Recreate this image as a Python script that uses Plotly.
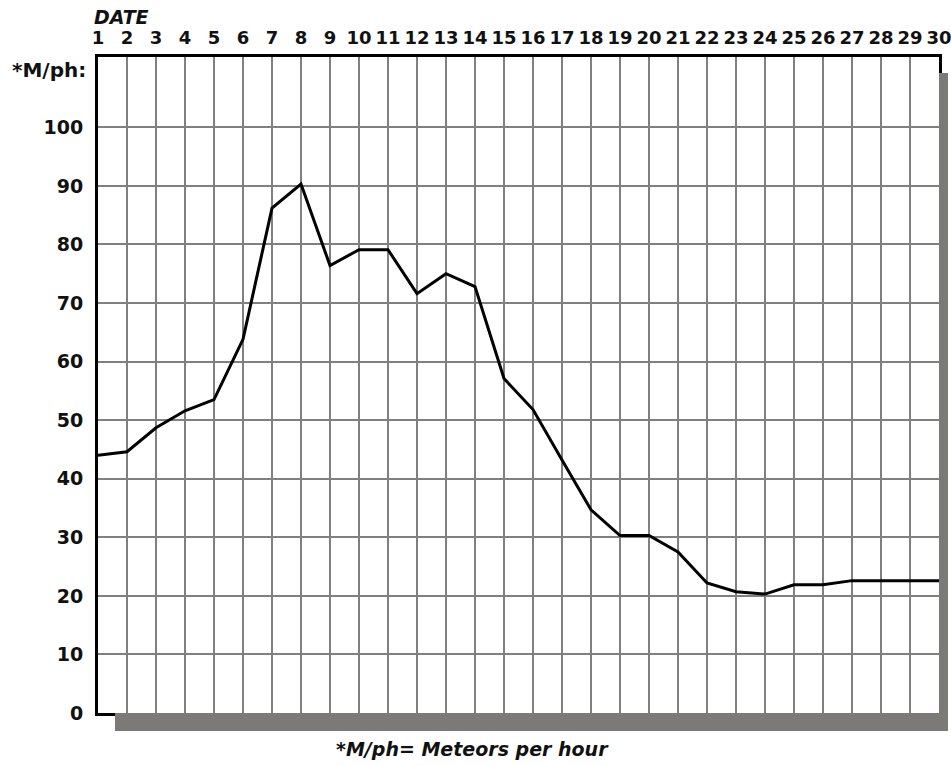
import plotly.graph_objects as go

dates = list(range(1, 31))
meteors_per_hour = [44, 44.6, 48.7, 51.6, 53.5, 63.8, 86.2, 90.3, 76.4, 79.1,
                    79.1, 71.6, 75, 72.8, 57.1, 51.8, 43.2, 34.7, 30.3, 30.3,
                    27.5, 22.2, 20.7, 20.3, 21.9, 21.9, 22.6, 22.6, 22.6, 22.6]
y_ticks = list(range(0, 101, 10))
x_title = "DATE"
y_title = "*M/ph:"
footnote = "*M/ph= Meteors per hour"

FONT = "DejaVu Sans, Liberation Sans, Arial"
W, H = 951, 766
# plot area in page pixels
L, R, T, B = 98, 939, 57, 713
pw, ph = R - L, B - T

def px(x):
    return (x - L) / pw

def py(y):
    return (B - y) / ph

fig = go.Figure()
fig.add_trace(go.Scatter(
    x=dates, y=meteors_per_hour, mode="lines",
    line=dict(color="black", width=3), hoverinfo="x+y", showlegend=False,
))

shadow = "#7b7a76"
fig.add_shape(type="rect", xref="paper", yref="paper",
              x0=px(115), x1=px(948), y0=py(731), y1=py(B),
              fillcolor=shadow, line=dict(width=0))
fig.add_shape(type="rect", xref="paper", yref="paper",
              x0=px(R), x1=px(948), y0=py(731), y1=py(73),
              fillcolor=shadow, line=dict(width=0))

fig.update_layout(
    width=W, height=H,
    margin=dict(l=L, r=W - R, t=T, b=H - B, autoexpand=False),
    paper_bgcolor="white", plot_bgcolor="white",
    font=dict(family=FONT, color="#111"),
    xaxis=dict(
        range=[1, 30], side="top", tickvals=dates,
        ticktext=[str(d) for d in dates],
        tickfont=dict(size=18, family=FONT, weight="bold", color="#111"),
        showgrid=True, gridcolor="#808080", gridwidth=1.5,
        showline=True, mirror=True, linecolor="black", linewidth=3,
        ticks="", ticklabelstandoff=3, zeroline=False, fixedrange=True,
        automargin=False, ticklabeloverflow="allow",
    ),
    yaxis=dict(
        range=[0, 112], tickvals=y_ticks,
        tickfont=dict(size=19, family=FONT, weight="bold", color="#111"),
        showgrid=True, gridcolor="#808080", gridwidth=1.5,
        showline=True, mirror=True, linecolor="black", linewidth=3,
        ticks="", ticklabelstandoff=8, zeroline=False, fixedrange=True,
        automargin=False, ticklabeloverflow="allow",
    ),
    annotations=[
        dict(text=x_title, xref="paper", yref="paper", x=px(121), y=py(17),
             showarrow=False, xanchor="center", yanchor="middle",
             font=dict(size=19, family=FONT, weight="bold", style="italic", color="#111")),
        dict(text=y_title, xref="paper", yref="paper", x=px(88), y=py(70),
             showarrow=False, xanchor="right", yanchor="middle",
             font=dict(size=20, family=FONT, weight="bold", color="#111")),
        dict(text=footnote, xref="paper", yref="paper", x=px(472), y=py(749),
             showarrow=False, xanchor="center", yanchor="middle",
             font=dict(size=19, family=FONT, weight="bold", style="italic", color="#111")),
    ],
)

fig.write_html(
    "out.html",
    config={"displayModeBar": False},
    post_script=(
        "document.documentElement.style.margin='0';"
        "document.documentElement.style.overflow='hidden';"
        "document.body.style.margin='0';"
        "document.body.style.overflow='hidden';"
    ),
)
